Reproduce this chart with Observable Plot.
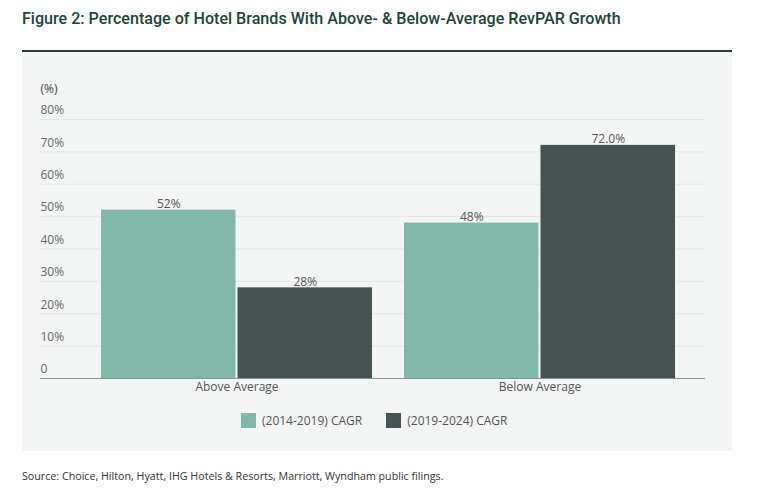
<!DOCTYPE html>
<html><head><meta charset="utf-8">
<script src="https://cdn.jsdelivr.net/npm/d3@7"></script>
<script src="https://cdn.jsdelivr.net/npm/@observablehq/plot@0.6"></script>
<style>
body{margin:0;background:#fff;width:757px;height:492px;position:relative;font-family:"Open Sans",sans-serif;overflow:hidden;}
#title{position:absolute;left:22px;top:9px;font-family:Roboto,sans-serif;font-weight:500;font-size:16.1px;color:#1b4636;white-space:nowrap;}
#panel{position:absolute;left:22px;top:50px;width:710px;height:399px;background:#f3f4f4;border-top:2px solid #2c3b36;}
#chart{position:absolute;left:0;top:0;}
#legend{position:absolute;top:360px;left:219px;display:flex;align-items:center;font-size:12px;color:#555;white-space:nowrap;}
.sw{width:15px;height:15px;display:inline-block;margin-right:6px}
#source{position:absolute;left:22px;top:469px;font-size:10.7px;color:#333;white-space:nowrap;}
</style></head>
<body>
<div id="title">Figure 2: Percentage of Hotel Brands With Above- &amp; Below-Average RevPAR Growth</div>
<div id="panel">
  <div id="chart"></div>
  <div id="legend"></div>
</div>
<div id="source">Source: Choice, Hilton, Hyatt, IHG Hotels &amp; Resorts, Marriott, Wyndham public filings.</div>
<script>
const categories = ["Above Average", "Below Average"];
const series = ["(2014-2019) CAGR", "(2019-2024) CAGR"];
const values2014 = [52, 48];
const values2019 = [28, 72];
const labels2014 = ["52%", "48%"];
const labels2019 = ["28%", "72.0%"];
const yTicks = [0, 10, 20, 30, 40, 50, 60, 70, 80];
const yTickLabels = ["0", "10%", "20%", "30%", "40%", "50%", "60%", "70%", "80%"];
const colors = ["#80b8aa", "#465353"];

const rows = [];
categories.forEach((c, i) => {
  rows.push({category: c, series: series[0], value: values2014[i], label: labels2014[i]});
  rows.push({category: c, series: series[1], value: values2019[i], label: labels2019[i]});
});

const xRange = [79, 653];
const padInner = 32 / 303;
const step = (xRange[1] - xRange[0]) / (categories.length - padInner);
const bw = step * (1 - padInner);
const half = bw / 2 + 1;
const off = bw / 4 + 0.5;

const chart = Plot.plot({
  width: 710,
  height: 345,
  marginLeft: 18,
  marginRight: 27,
  marginTop: 67,
  marginBottom: 19,
  style: {fontFamily: "'Open Sans', sans-serif", fontSize: "12px", background: "transparent", color: "#555"},
  x: {type: "band", domain: categories, range: xRange, paddingInner: padInner, paddingOuter: 0, axis: null},
  y: {domain: [0, 80], axis: null},
  marks: [
    Plot.ruleY(yTicks.filter(d => d > 0), {stroke: "#e3e6e5", strokeWidth: 1}),
    Plot.barY(rows, {filter: d => d.series === series[0], x: "category", y: "value", fill: colors[0], insetRight: half}),
    Plot.barY(rows, {filter: d => d.series === series[1], x: "category", y: "value", fill: colors[1], insetLeft: half}),
    Plot.ruleY([0], {stroke: "#8d9291", strokeWidth: 1.2}),
    Plot.text(yTicks, {y: d => d, text: (d, i) => yTickLabels[i], frameAnchor: "left", textAnchor: "start", dy: -9, fill: "#666", fontSize: 12}),
    Plot.text(["(%)"], {frameAnchor: "top-left", textAnchor: "start", dy: -35, fill: "#444", fontSize: 12}),
    Plot.text(categories, {x: d => d, frameAnchor: "bottom", lineAnchor: "top", dy: 4, fill: "#555", fontSize: 12}),
    Plot.text(rows, {filter: d => d.series === series[0], x: "category", y: "value", text: "label", dx: -off, dy: -2, lineAnchor: "bottom", fill: "#555", fontSize: 12}),
    Plot.text(rows, {filter: d => d.series === series[1], x: "category", y: "value", text: "label", dx: off, dy: -2, lineAnchor: "bottom", fill: "#555", fontSize: 12})
  ]
});
document.getElementById("chart").appendChild(chart);

const legend = document.getElementById("legend");
series.forEach((s, i) => {
  const item = document.createElement("span");
  item.style.display = "flex";
  item.style.alignItems = "center";
  item.style.marginRight = i === 0 ? "24px" : "0";
  const sw = document.createElement("span");
  sw.className = "sw";
  sw.style.background = colors[i];
  item.appendChild(sw);
  item.appendChild(document.createTextNode(s));
  legend.appendChild(item);
});
</script>
</body></html>
